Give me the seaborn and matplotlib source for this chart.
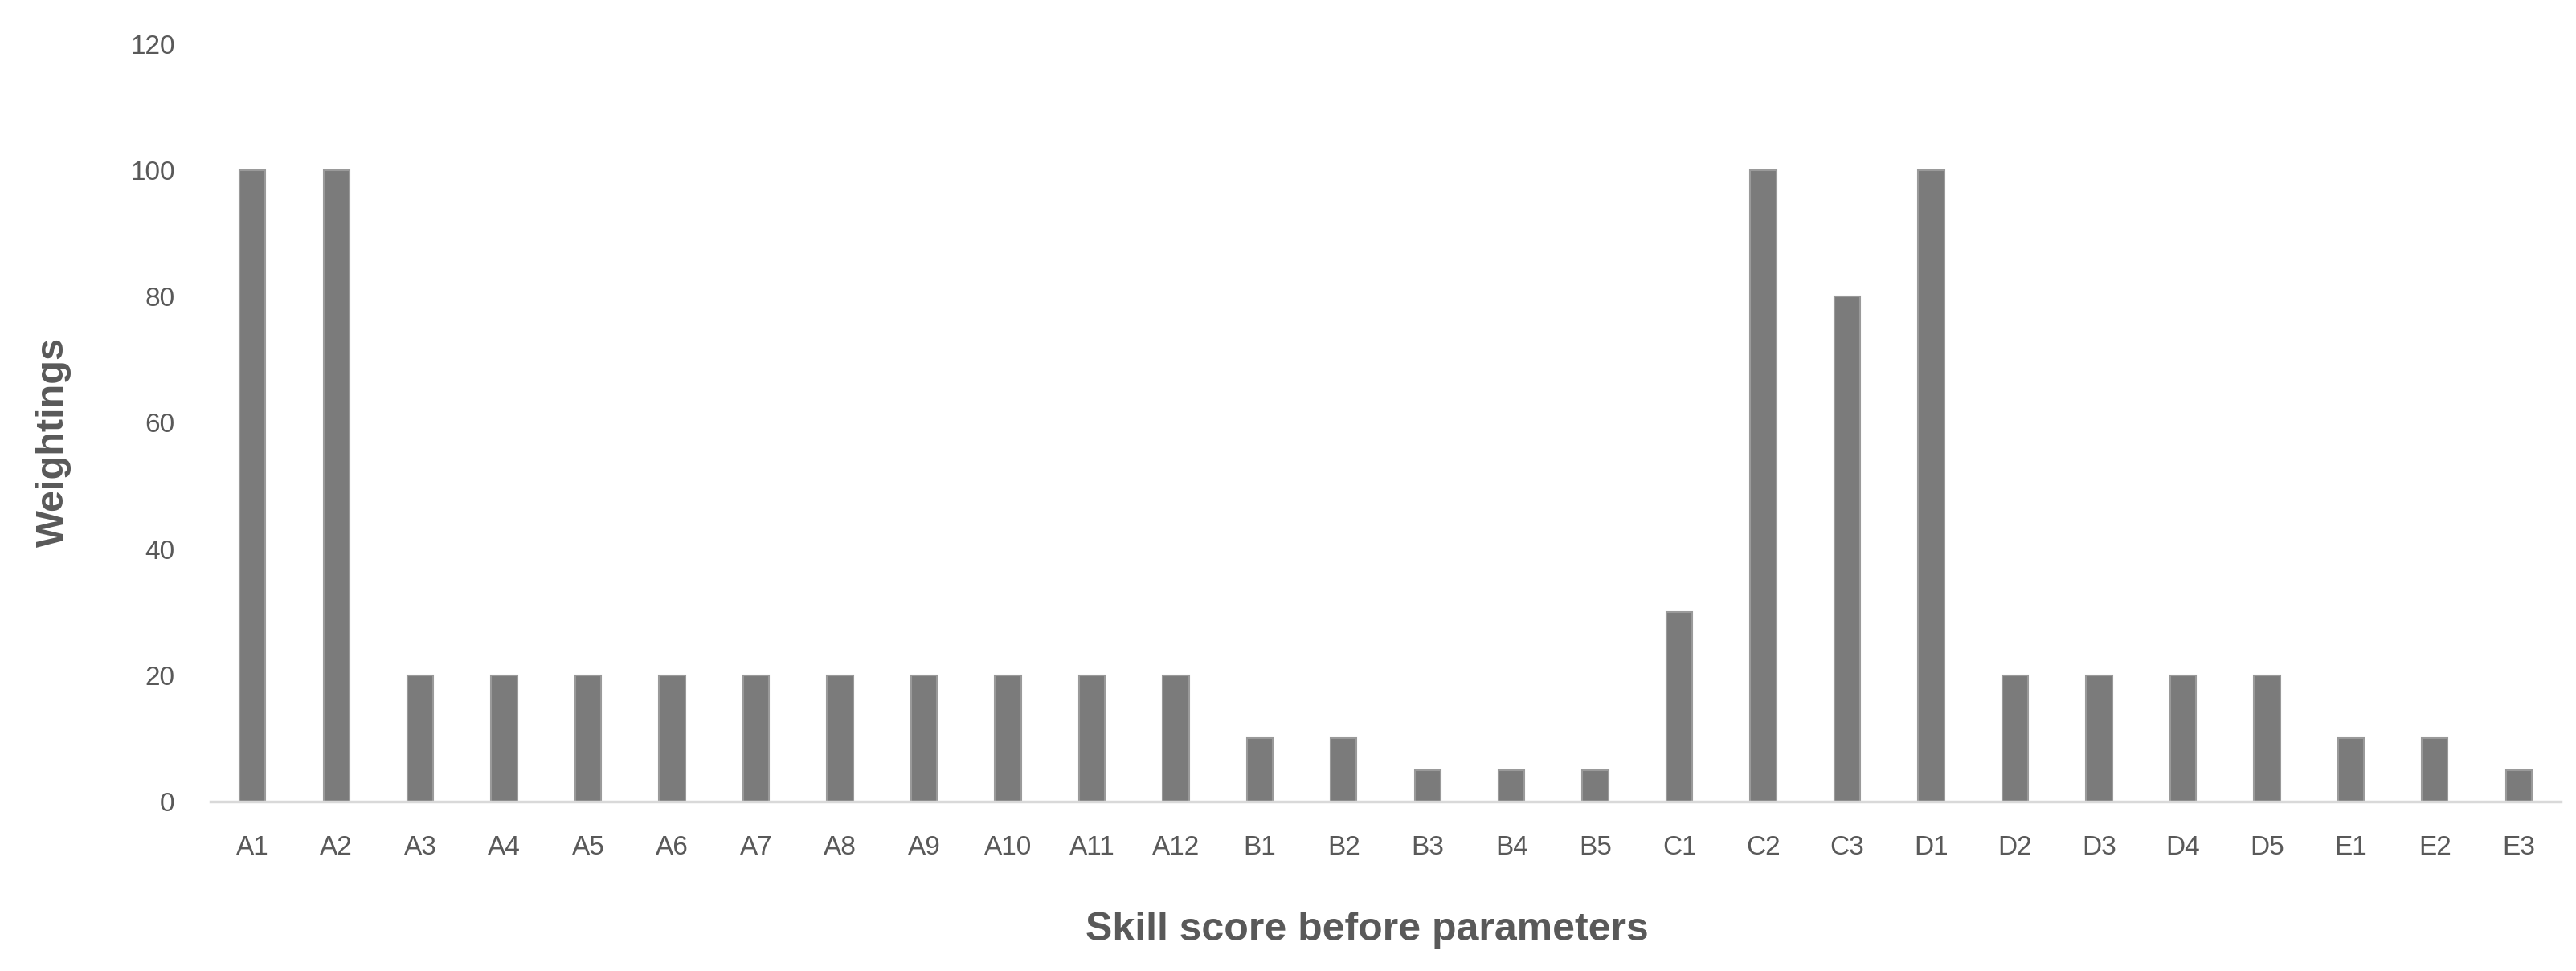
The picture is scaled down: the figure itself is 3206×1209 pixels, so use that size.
import matplotlib
matplotlib.use("Agg")
import matplotlib.pyplot as plt
import seaborn as sns
import pandas as pd

# skill codes and their weightings
skills = ['A1', 'A2', 'A3', 'A4', 'A5', 'A6', 'A7', 'A8', 'A9', 'A10', 'A11', 'A12',
          'B1', 'B2', 'B3', 'B4', 'B5', 'C1', 'C2', 'C3',
          'D1', 'D2', 'D3', 'D4', 'D5', 'E1', 'E2', 'E3']
weights = [100, 100, 20, 20, 20, 20, 20, 20, 20, 20, 20, 20,
           10, 10, 5, 5, 5, 30, 100, 80,
           100, 20, 20, 20, 20, 10, 10, 5]
yticks = [0, 20, 40, 60, 80, 100, 120]

df = pd.DataFrame({'Skill': skills, 'Weighting': weights})

sns.set_style("white")
plt.rcParams['font.family'] = ['Liberation Sans', 'DejaVu Sans']

fig = plt.figure(figsize=(32.06, 12.09), dpi=100)
ax = fig.add_axes([262 / 3206, 1 - 998 / 1209, (3187 - 262) / 3206, (998 - 55) / 1209])

sns.barplot(x='Skill', y='Weighting', data=df, color='#7b7b7b', width=0.31,
            edgecolor='#9a9a9a', linewidth=1.5, saturation=1, ax=ax)

ax.set_ylim(0, 120)
ax.set_yticks(yticks)
ax.set_xlim(-0.5, len(skills) - 0.5)

for side in ['top', 'right', 'left']:
    ax.spines[side].set_visible(False)
ax.spines['bottom'].set_color('#d9d9d9')
ax.spines['bottom'].set_linewidth(2.5)

ax.tick_params(axis='both', length=0, labelsize=24, labelcolor='#595959')
ax.tick_params(axis='x', pad=30)
ax.tick_params(axis='y', pad=32)

ax.set_xlabel('Skill score before parameters', fontsize=36, fontweight='bold', color='#595959')
ax.set_ylabel('Weightings', fontsize=35, fontweight='bold', color='#595959')
ax.xaxis.set_label_coords(0.492, -0.145)
ax.yaxis.set_label_coords(-0.059, 0.475)

fig.savefig('out.png', dpi=100)
